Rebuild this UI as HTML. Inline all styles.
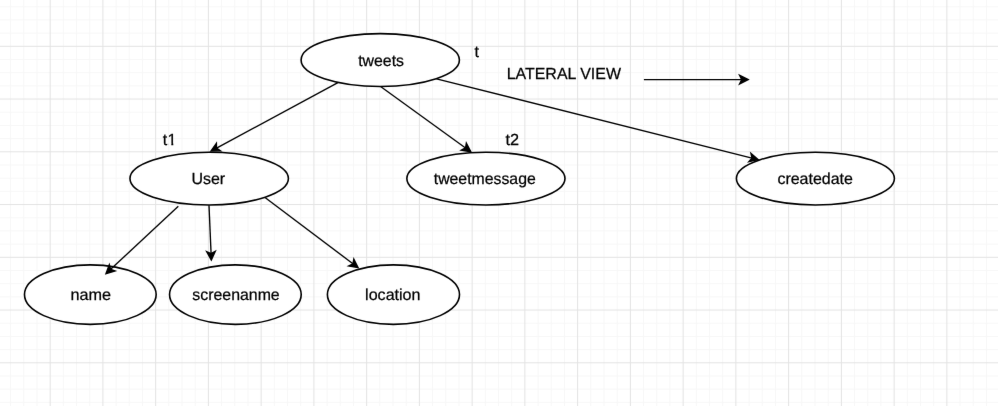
<!DOCTYPE html>
<html><head><meta charset="utf-8"><style>
html,body{margin:0;padding:0;background:#fff;width:998px;height:406px;overflow:hidden}
svg{display:block;will-change:transform}
text{font-family:"Liberation Sans",sans-serif;font-size:16px;fill:#000;stroke:#000;stroke-width:0.25px;text-rendering:geometricPrecision}
</style></head><body>
<svg width="998" height="406" viewBox="0 0 998 406">
<defs><filter id="soft" x="0" y="0" width="998" height="406" filterUnits="userSpaceOnUse" color-interpolation-filters="sRGB"><feConvolveMatrix order="3" kernelMatrix="0.0025 0.0450 0.0025 0.0450 0.8100 0.0450 0.0025 0.0450 0.0025" edgeMode="duplicate"/></filter></defs>
<g filter="url(#soft)">
<rect width="998" height="406" fill="#fff"/>
<line x1="10.60" y1="0" x2="10.60" y2="406" stroke="#f7f7f7" stroke-width="1.0"/>
<line x1="23.79" y1="0" x2="23.79" y2="406" stroke="#f7f7f7" stroke-width="1.0"/>
<line x1="36.97" y1="0" x2="36.97" y2="406" stroke="#f7f7f7" stroke-width="1.0"/>
<line x1="63.35" y1="0" x2="63.35" y2="406" stroke="#f7f7f7" stroke-width="1.0"/>
<line x1="76.53" y1="0" x2="76.53" y2="406" stroke="#f7f7f7" stroke-width="1.0"/>
<line x1="89.72" y1="0" x2="89.72" y2="406" stroke="#f7f7f7" stroke-width="1.0"/>
<line x1="116.10" y1="0" x2="116.10" y2="406" stroke="#f7f7f7" stroke-width="1.0"/>
<line x1="129.28" y1="0" x2="129.28" y2="406" stroke="#f7f7f7" stroke-width="1.0"/>
<line x1="142.47" y1="0" x2="142.47" y2="406" stroke="#f7f7f7" stroke-width="1.0"/>
<line x1="168.84" y1="0" x2="168.84" y2="406" stroke="#f7f7f7" stroke-width="1.0"/>
<line x1="182.03" y1="0" x2="182.03" y2="406" stroke="#f7f7f7" stroke-width="1.0"/>
<line x1="195.22" y1="0" x2="195.22" y2="406" stroke="#f7f7f7" stroke-width="1.0"/>
<line x1="221.59" y1="0" x2="221.59" y2="406" stroke="#f7f7f7" stroke-width="1.0"/>
<line x1="234.78" y1="0" x2="234.78" y2="406" stroke="#f7f7f7" stroke-width="1.0"/>
<line x1="247.97" y1="0" x2="247.97" y2="406" stroke="#f7f7f7" stroke-width="1.0"/>
<line x1="274.34" y1="0" x2="274.34" y2="406" stroke="#f7f7f7" stroke-width="1.0"/>
<line x1="287.53" y1="0" x2="287.53" y2="406" stroke="#f7f7f7" stroke-width="1.0"/>
<line x1="300.71" y1="0" x2="300.71" y2="406" stroke="#f7f7f7" stroke-width="1.0"/>
<line x1="327.09" y1="0" x2="327.09" y2="406" stroke="#f7f7f7" stroke-width="1.0"/>
<line x1="340.28" y1="0" x2="340.28" y2="406" stroke="#f7f7f7" stroke-width="1.0"/>
<line x1="353.46" y1="0" x2="353.46" y2="406" stroke="#f7f7f7" stroke-width="1.0"/>
<line x1="379.84" y1="0" x2="379.84" y2="406" stroke="#f7f7f7" stroke-width="1.0"/>
<line x1="393.02" y1="0" x2="393.02" y2="406" stroke="#f7f7f7" stroke-width="1.0"/>
<line x1="406.21" y1="0" x2="406.21" y2="406" stroke="#f7f7f7" stroke-width="1.0"/>
<line x1="432.58" y1="0" x2="432.58" y2="406" stroke="#f7f7f7" stroke-width="1.0"/>
<line x1="445.77" y1="0" x2="445.77" y2="406" stroke="#f7f7f7" stroke-width="1.0"/>
<line x1="458.96" y1="0" x2="458.96" y2="406" stroke="#f7f7f7" stroke-width="1.0"/>
<line x1="485.33" y1="0" x2="485.33" y2="406" stroke="#f7f7f7" stroke-width="1.0"/>
<line x1="498.52" y1="0" x2="498.52" y2="406" stroke="#f7f7f7" stroke-width="1.0"/>
<line x1="511.71" y1="0" x2="511.71" y2="406" stroke="#f7f7f7" stroke-width="1.0"/>
<line x1="538.08" y1="0" x2="538.08" y2="406" stroke="#f7f7f7" stroke-width="1.0"/>
<line x1="551.27" y1="0" x2="551.27" y2="406" stroke="#f7f7f7" stroke-width="1.0"/>
<line x1="564.45" y1="0" x2="564.45" y2="406" stroke="#f7f7f7" stroke-width="1.0"/>
<line x1="590.83" y1="0" x2="590.83" y2="406" stroke="#f7f7f7" stroke-width="1.0"/>
<line x1="604.01" y1="0" x2="604.01" y2="406" stroke="#f7f7f7" stroke-width="1.0"/>
<line x1="617.20" y1="0" x2="617.20" y2="406" stroke="#f7f7f7" stroke-width="1.0"/>
<line x1="643.58" y1="0" x2="643.58" y2="406" stroke="#f7f7f7" stroke-width="1.0"/>
<line x1="656.76" y1="0" x2="656.76" y2="406" stroke="#f7f7f7" stroke-width="1.0"/>
<line x1="669.95" y1="0" x2="669.95" y2="406" stroke="#f7f7f7" stroke-width="1.0"/>
<line x1="696.32" y1="0" x2="696.32" y2="406" stroke="#f7f7f7" stroke-width="1.0"/>
<line x1="709.51" y1="0" x2="709.51" y2="406" stroke="#f7f7f7" stroke-width="1.0"/>
<line x1="722.70" y1="0" x2="722.70" y2="406" stroke="#f7f7f7" stroke-width="1.0"/>
<line x1="749.07" y1="0" x2="749.07" y2="406" stroke="#f7f7f7" stroke-width="1.0"/>
<line x1="762.26" y1="0" x2="762.26" y2="406" stroke="#f7f7f7" stroke-width="1.0"/>
<line x1="775.45" y1="0" x2="775.45" y2="406" stroke="#f7f7f7" stroke-width="1.0"/>
<line x1="801.82" y1="0" x2="801.82" y2="406" stroke="#f7f7f7" stroke-width="1.0"/>
<line x1="815.01" y1="0" x2="815.01" y2="406" stroke="#f7f7f7" stroke-width="1.0"/>
<line x1="828.19" y1="0" x2="828.19" y2="406" stroke="#f7f7f7" stroke-width="1.0"/>
<line x1="854.57" y1="0" x2="854.57" y2="406" stroke="#f7f7f7" stroke-width="1.0"/>
<line x1="867.75" y1="0" x2="867.75" y2="406" stroke="#f7f7f7" stroke-width="1.0"/>
<line x1="880.94" y1="0" x2="880.94" y2="406" stroke="#f7f7f7" stroke-width="1.0"/>
<line x1="907.32" y1="0" x2="907.32" y2="406" stroke="#f7f7f7" stroke-width="1.0"/>
<line x1="920.50" y1="0" x2="920.50" y2="406" stroke="#f7f7f7" stroke-width="1.0"/>
<line x1="933.69" y1="0" x2="933.69" y2="406" stroke="#f7f7f7" stroke-width="1.0"/>
<line x1="960.06" y1="0" x2="960.06" y2="406" stroke="#f7f7f7" stroke-width="1.0"/>
<line x1="973.25" y1="0" x2="973.25" y2="406" stroke="#f7f7f7" stroke-width="1.0"/>
<line x1="986.44" y1="0" x2="986.44" y2="406" stroke="#f7f7f7" stroke-width="1.0"/>
<line x1="0" y1="6.75" x2="998" y2="6.75" stroke="#f7f7f7" stroke-width="1.0"/>
<line x1="0" y1="19.94" x2="998" y2="19.94" stroke="#f7f7f7" stroke-width="1.0"/>
<line x1="0" y1="33.12" x2="998" y2="33.12" stroke="#f7f7f7" stroke-width="1.0"/>
<line x1="0" y1="59.50" x2="998" y2="59.50" stroke="#f7f7f7" stroke-width="1.0"/>
<line x1="0" y1="72.69" x2="998" y2="72.69" stroke="#f7f7f7" stroke-width="1.0"/>
<line x1="0" y1="85.87" x2="998" y2="85.87" stroke="#f7f7f7" stroke-width="1.0"/>
<line x1="0" y1="112.25" x2="998" y2="112.25" stroke="#f7f7f7" stroke-width="1.0"/>
<line x1="0" y1="125.43" x2="998" y2="125.43" stroke="#f7f7f7" stroke-width="1.0"/>
<line x1="0" y1="138.62" x2="998" y2="138.62" stroke="#f7f7f7" stroke-width="1.0"/>
<line x1="0" y1="164.99" x2="998" y2="164.99" stroke="#f7f7f7" stroke-width="1.0"/>
<line x1="0" y1="178.18" x2="998" y2="178.18" stroke="#f7f7f7" stroke-width="1.0"/>
<line x1="0" y1="191.37" x2="998" y2="191.37" stroke="#f7f7f7" stroke-width="1.0"/>
<line x1="0" y1="217.74" x2="998" y2="217.74" stroke="#f7f7f7" stroke-width="1.0"/>
<line x1="0" y1="230.93" x2="998" y2="230.93" stroke="#f7f7f7" stroke-width="1.0"/>
<line x1="0" y1="244.12" x2="998" y2="244.12" stroke="#f7f7f7" stroke-width="1.0"/>
<line x1="0" y1="270.49" x2="998" y2="270.49" stroke="#f7f7f7" stroke-width="1.0"/>
<line x1="0" y1="283.68" x2="998" y2="283.68" stroke="#f7f7f7" stroke-width="1.0"/>
<line x1="0" y1="296.86" x2="998" y2="296.86" stroke="#f7f7f7" stroke-width="1.0"/>
<line x1="0" y1="323.24" x2="998" y2="323.24" stroke="#f7f7f7" stroke-width="1.0"/>
<line x1="0" y1="336.43" x2="998" y2="336.43" stroke="#f7f7f7" stroke-width="1.0"/>
<line x1="0" y1="349.61" x2="998" y2="349.61" stroke="#f7f7f7" stroke-width="1.0"/>
<line x1="0" y1="375.99" x2="998" y2="375.99" stroke="#f7f7f7" stroke-width="1.0"/>
<line x1="0" y1="389.17" x2="998" y2="389.17" stroke="#f7f7f7" stroke-width="1.0"/>
<line x1="0" y1="402.36" x2="998" y2="402.36" stroke="#f7f7f7" stroke-width="1.0"/>
<line x1="50.16" y1="0" x2="50.16" y2="406" stroke="#e3e3e3" stroke-width="1.0"/>
<line x1="102.91" y1="0" x2="102.91" y2="406" stroke="#e3e3e3" stroke-width="1.0"/>
<line x1="155.66" y1="0" x2="155.66" y2="406" stroke="#e3e3e3" stroke-width="1.0"/>
<line x1="208.40" y1="0" x2="208.40" y2="406" stroke="#e3e3e3" stroke-width="1.0"/>
<line x1="261.15" y1="0" x2="261.15" y2="406" stroke="#e3e3e3" stroke-width="1.0"/>
<line x1="313.90" y1="0" x2="313.90" y2="406" stroke="#e3e3e3" stroke-width="1.0"/>
<line x1="366.65" y1="0" x2="366.65" y2="406" stroke="#e3e3e3" stroke-width="1.0"/>
<line x1="419.40" y1="0" x2="419.40" y2="406" stroke="#e3e3e3" stroke-width="1.0"/>
<line x1="472.14" y1="0" x2="472.14" y2="406" stroke="#e3e3e3" stroke-width="1.0"/>
<line x1="524.89" y1="0" x2="524.89" y2="406" stroke="#e3e3e3" stroke-width="1.0"/>
<line x1="577.64" y1="0" x2="577.64" y2="406" stroke="#e3e3e3" stroke-width="1.0"/>
<line x1="630.39" y1="0" x2="630.39" y2="406" stroke="#e3e3e3" stroke-width="1.0"/>
<line x1="683.14" y1="0" x2="683.14" y2="406" stroke="#e3e3e3" stroke-width="1.0"/>
<line x1="735.88" y1="0" x2="735.88" y2="406" stroke="#e3e3e3" stroke-width="1.0"/>
<line x1="788.63" y1="0" x2="788.63" y2="406" stroke="#e3e3e3" stroke-width="1.0"/>
<line x1="841.38" y1="0" x2="841.38" y2="406" stroke="#e3e3e3" stroke-width="1.0"/>
<line x1="894.13" y1="0" x2="894.13" y2="406" stroke="#e3e3e3" stroke-width="1.0"/>
<line x1="946.88" y1="0" x2="946.88" y2="406" stroke="#e3e3e3" stroke-width="1.0"/>
<line x1="999.62" y1="0" x2="999.62" y2="406" stroke="#e3e3e3" stroke-width="1.0"/>
<line x1="0" y1="46.31" x2="998" y2="46.31" stroke="#e3e3e3" stroke-width="1.0"/>
<line x1="0" y1="99.06" x2="998" y2="99.06" stroke="#e3e3e3" stroke-width="1.0"/>
<line x1="0" y1="151.81" x2="998" y2="151.81" stroke="#e3e3e3" stroke-width="1.0"/>
<line x1="0" y1="204.55" x2="998" y2="204.55" stroke="#e3e3e3" stroke-width="1.0"/>
<line x1="0" y1="257.30" x2="998" y2="257.30" stroke="#e3e3e3" stroke-width="1.0"/>
<line x1="0" y1="310.05" x2="998" y2="310.05" stroke="#e3e3e3" stroke-width="1.0"/>
<line x1="0" y1="362.80" x2="998" y2="362.80" stroke="#e3e3e3" stroke-width="1.0"/>
<ellipse cx="380.25" cy="60.05" rx="79.15" ry="26.45" fill="#fff" stroke="#000" stroke-width="1.6"/>
<ellipse cx="209.18" cy="178.60" rx="79.22" ry="26.35" fill="#fff" stroke="#000" stroke-width="1.6"/>
<ellipse cx="485.92" cy="178.60" rx="79.07" ry="26.35" fill="#fff" stroke="#000" stroke-width="1.6"/>
<ellipse cx="815.40" cy="178.60" rx="79.00" ry="26.35" fill="#fff" stroke="#000" stroke-width="1.6"/>
<ellipse cx="90.32" cy="294.60" rx="65.83" ry="29.75" fill="#fff" stroke="#000" stroke-width="1.6"/>
<ellipse cx="235.38" cy="294.60" rx="65.83" ry="29.75" fill="#fff" stroke="#000" stroke-width="1.6"/>
<ellipse cx="393.45" cy="294.60" rx="66.05" ry="29.75" fill="#fff" stroke="#000" stroke-width="1.6"/>
<line x1="337.90" y1="82.60" x2="216.56" y2="148.06" stroke="#000" stroke-width="1.35"/>
<path d="M210.89 151.12L216.42 143.25L216.56 148.06L220.50 150.82Z" fill="#000" stroke="#000" stroke-width="1.35" stroke-miterlimit="10"/>
<line x1="380.90" y1="86.80" x2="465.55" y2="147.93" stroke="#000" stroke-width="1.35"/>
<path d="M470.78 151.71L461.29 150.16L465.55 147.93L466.33 143.19Z" fill="#000" stroke="#000" stroke-width="1.35" stroke-miterlimit="10"/>
<line x1="436.50" y1="78.80" x2="751.97" y2="158.08" stroke="#000" stroke-width="1.35"/>
<path d="M758.22 159.65L748.83 161.73L751.97 158.08L750.93 153.39Z" fill="#000" stroke="#000" stroke-width="1.35" stroke-miterlimit="10"/>
<line x1="178.30" y1="206.30" x2="110.66" y2="269.32" stroke="#000" stroke-width="1.35"/>
<path d="M105.94 273.71L109.30 264.70L110.66 269.32L115.16 271.00Z" fill="#000" stroke="#000" stroke-width="1.35" stroke-miterlimit="10"/>
<line x1="209.00" y1="205.30" x2="211.08" y2="253.65" stroke="#000" stroke-width="1.35"/>
<path d="M211.36 260.09L206.69 251.68L211.08 253.65L215.28 251.31Z" fill="#000" stroke="#000" stroke-width="1.35" stroke-miterlimit="10"/>
<line x1="265.00" y1="197.55" x2="352.94" y2="263.76" stroke="#000" stroke-width="1.35"/>
<path d="M358.09 267.64L348.64 265.91L352.94 263.76L353.81 259.03Z" fill="#000" stroke="#000" stroke-width="1.35" stroke-miterlimit="10"/>
<line x1="643.90" y1="79.60" x2="741.74" y2="79.60" stroke="#000" stroke-width="1.35"/>
<path d="M748.19 79.60L739.59 83.90L741.74 79.60L739.59 75.30Z" fill="#000" stroke="#000" stroke-width="1.35" stroke-miterlimit="10"/>
<text x="358.20" y="66.00" textLength="45.79" lengthAdjust="spacingAndGlyphs">tweets</text>
<text x="191.40" y="184.00" textLength="33.73" lengthAdjust="spacingAndGlyphs">User</text>
<text x="433.75" y="184.00" textLength="102.01" lengthAdjust="spacingAndGlyphs">tweetmessage</text>
<text x="777.45" y="184.00" textLength="75.46" lengthAdjust="spacingAndGlyphs">createdate</text>
<text x="70.58" y="300.00" textLength="40.56" lengthAdjust="spacingAndGlyphs">name</text>
<text x="192.30" y="300.00" textLength="87.39" lengthAdjust="spacingAndGlyphs">screenanme</text>
<text x="365.10" y="300.00" textLength="55.37" lengthAdjust="spacingAndGlyphs">location</text>
<text x="474.55" y="57.00">t</text>
<text x="505.45" y="145.00" textLength="13.55" lengthAdjust="spacingAndGlyphs">t2</text>
<text x="506.71" y="79.00" textLength="114.24" lengthAdjust="spacingAndGlyphs">LATERAL VIEW</text>
<clipPath id="nofoot" clipPathUnits="userSpaceOnUse"><rect x="150" y="120" width="40" height="23"/><rect x="150" y="143" width="18.2" height="4"/><rect x="171.3" y="143" width="2.0" height="4"/></clipPath>
<text x="162.65" y="145" clip-path="url(#nofoot)">t<tspan x="167.6">1</tspan></text>
</g>
</svg>
</body></html>
